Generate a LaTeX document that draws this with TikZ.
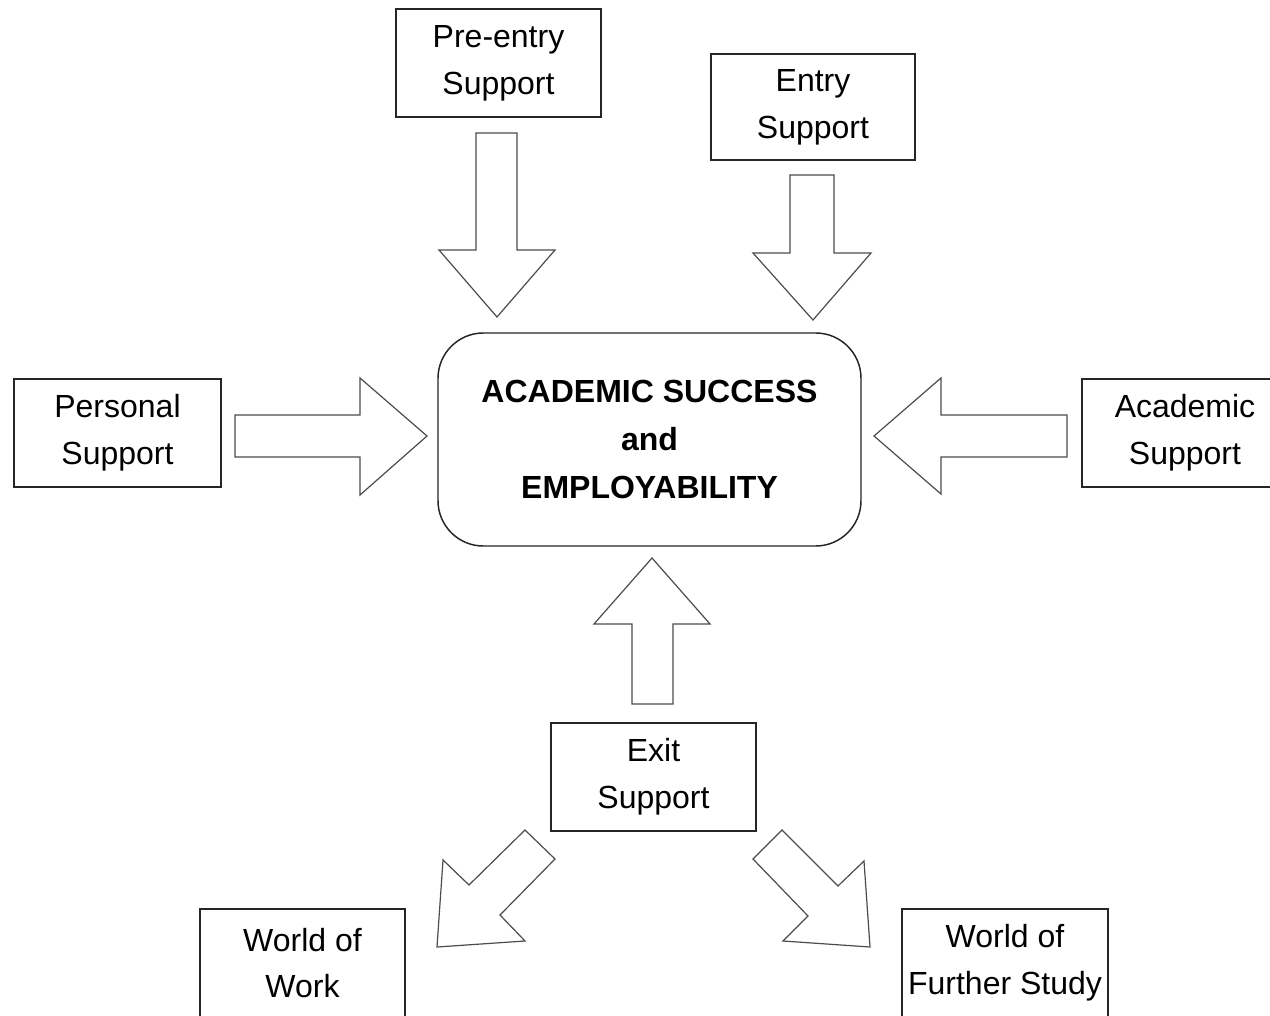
\documentclass[tikz,border=0pt]{standalone}
\usepackage{fontspec}
\setmainfont{Liberation Sans}
\begin{document}
\begin{tikzpicture}[x=0.75pt,y=-0.75pt,
  box/.style={draw=black!85, line width=1.1pt, fill=white, inner sep=0pt, align=center,
    font=\fontsize{24}{35}\selectfont},
  hub/.style={draw=black!85, line width=1.1pt, fill=white, inner sep=0pt, align=center,
    rounded corners=34pt, font=\bfseries\fontsize{24}{36}\selectfont},
  blockarrow/.style={draw=black!70, line width=0.9pt, fill=white, line join=miter}]
\clip (0,0) rectangle (1270,1016);
\fill[white] (0,0) rectangle (1270,1016);

\node[box, minimum width=153.75pt, minimum height=81pt] (pre) at (498.5,63) {Pre-entry\\Support};
\node[box, minimum width=153pt, minimum height=79.5pt] (entry) at (813,107) {Entry\\Support};
\node[box, minimum width=155.25pt, minimum height=81pt] (personal) at (117.5,433) {Personal\\Support};
\node[box, minimum width=154.5pt, minimum height=81pt] (academic) at (1185,433) {Academic\\Support};
\node[hub, minimum width=317.25pt, minimum height=159.75pt] (hubnode) at (649.5,439.5) {ACADEMIC SUCCESS\\and\\EMPLOYABILITY};
\node[box, minimum width=153.75pt, minimum height=81pt] (exit) at (653.5,777) {Exit\\Support};
\node[box, minimum width=153.75pt, minimum height=81pt] (work) at (302.5,963) {World of\\Work};
\node[box, minimum width=154.5pt, minimum height=81pt] (study) at (1005,963) {World of\\Further Study};

% pre-entry -> hub
\draw[blockarrow] (476,133) -- (517,133) -- (517,250) -- (555,250) -- (497,317) -- (439,250) -- (476,250) -- cycle;
% entry -> hub
\draw[blockarrow] (790,175) -- (834,175) -- (834,253) -- (871,253) -- (813,320) -- (753,253) -- (790,253) -- cycle;
% personal -> hub
\draw[blockarrow] (235,415) -- (360,415) -- (360,378) -- (427,436) -- (360,495) -- (360,457) -- (235,457) -- cycle;
% academic -> hub
\draw[blockarrow] (1067,415) -- (941,415) -- (941,378) -- (874,436) -- (941,494) -- (941,457) -- (1067,457) -- cycle;
% exit -> hub
\draw[blockarrow] (632,704) -- (673,704) -- (673,624) -- (710,624) -- (652,558) -- (594,624) -- (632,624) -- cycle;
% exit -> world of work
\draw[blockarrow] (525,830) -- (555,859) -- (500,915) -- (525,941) -- (437,947) -- (443,860) -- (469,885) -- cycle;
% exit -> world of further study
\draw[blockarrow] (782,830) -- (753,859) -- (808,916) -- (783,941) -- (870,947) -- (864,861) -- (838,886) -- cycle;
\end{tikzpicture}
\end{document}
